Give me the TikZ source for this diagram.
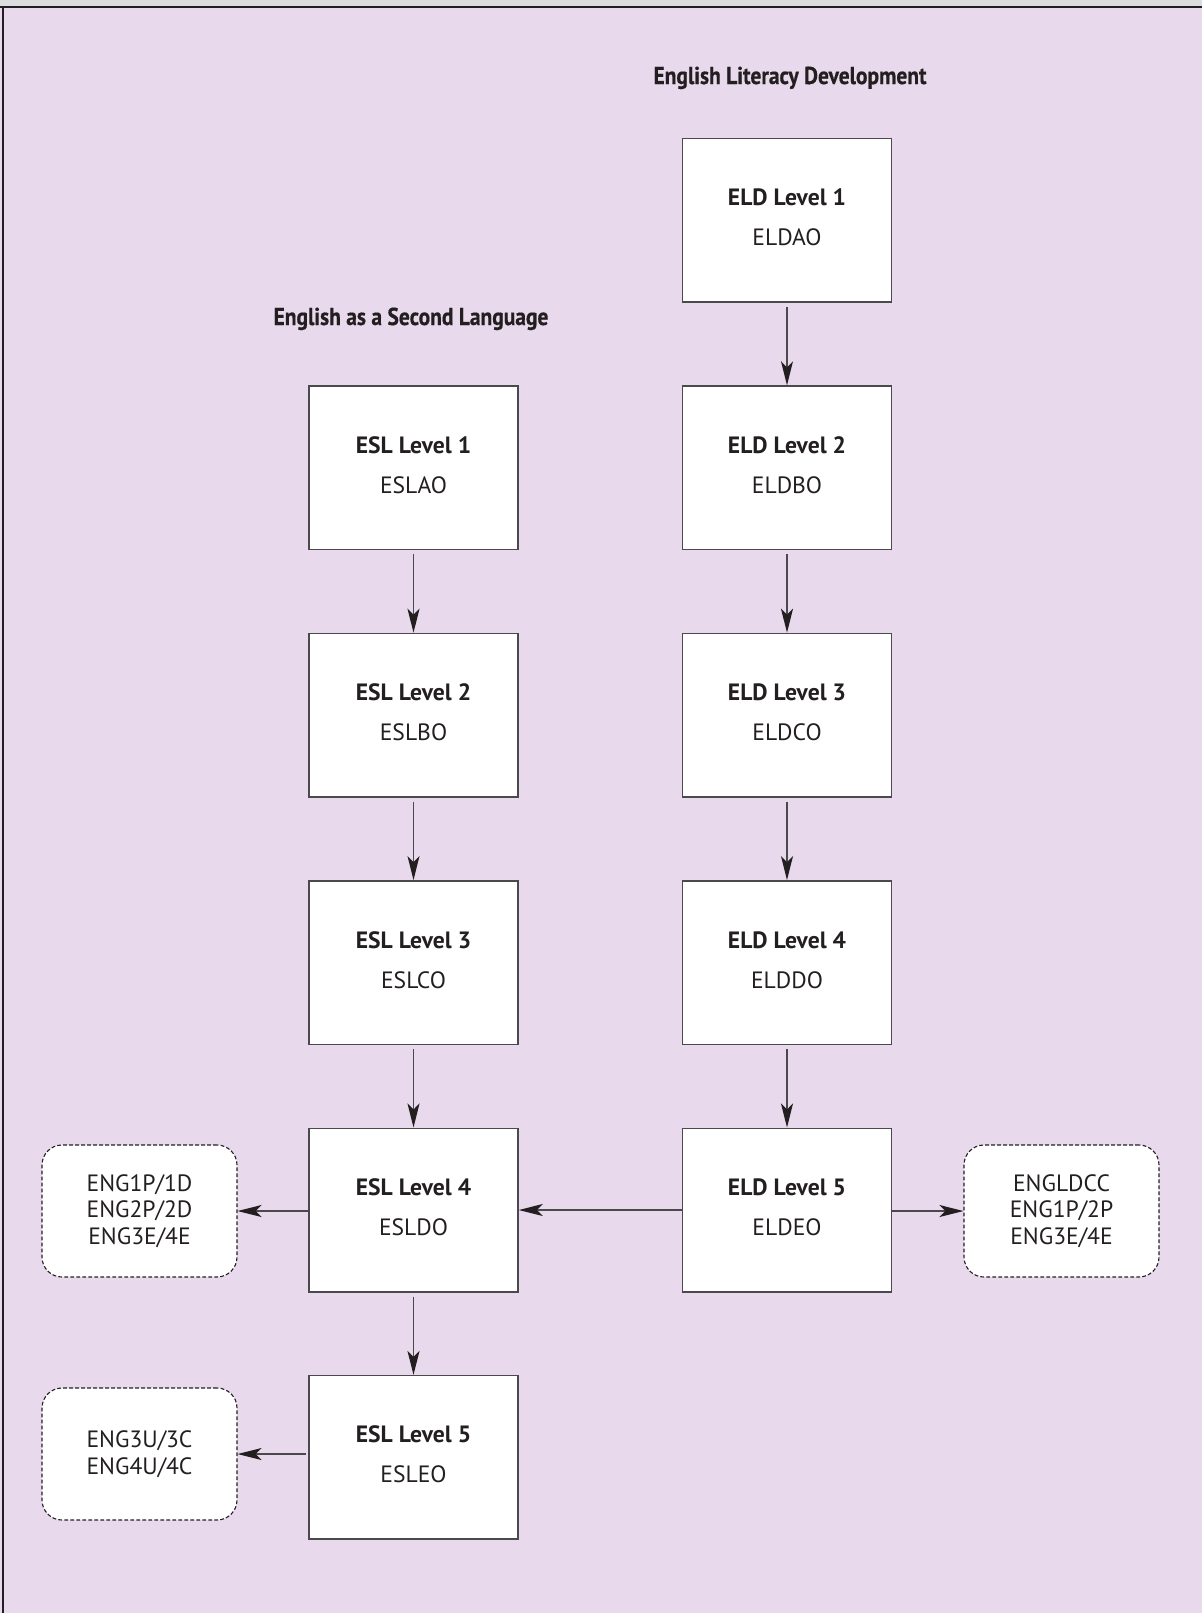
\documentclass[tikz,border=0pt]{standalone}
\usepackage{fontspec}
\setmainfont{PT Sans}
\newfontfamily\headfont[FakeStretch=0.88,FakeBold=0.5]{PT Sans Bold}
\usetikzlibrary{arrows.meta}
\definecolor{lav}{HTML}{E8D9EC}
\definecolor{topgray}{HTML}{DCDDDE}
\definecolor{ink}{HTML}{231F20}
\definecolor{edge}{HTML}{4A4A4C}
\tikzset{
  lvl/.style={draw=edge, fill=white, line width=0.75pt, minimum width=104.5pt, minimum height=81.75pt, inner sep=0pt},
  ttl/.style={text=ink, inner sep=0pt, font=\fontsize{11.8pt}{13.4pt}\selectfont\bfseries},
  cod/.style={text=ink, inner sep=0pt, font=\fontsize{11.8pt}{13.4pt}\selectfont},
  outbox/.style={draw=ink, fill=white, line width=0.55pt, dash pattern=on 1.9pt off 1.1pt, rounded corners=10pt, minimum width=97.5pt, minimum height=66pt, inner sep=0pt, align=center, text=ink, font=\fontsize{11.8pt}{13.35pt}\selectfont},
  head/.style={text=ink, inner sep=0pt, font=\headfont\fontsize{12.2pt}{13pt}\selectfont},
  arr/.style={draw=edge, line width=0.85pt, -{Stealth[length=12pt, width=6pt, inset=3pt, color=ink]}},
}
\newcommand\lvlbox[5]{%
  \node[lvl, anchor=north] (#1) at (#2,#3) {};
  \node[ttl, anchor=base] (#1t) at ([yshift=-34pt]#1.north) {#4};
  \node[cod, anchor=base] (#1c) at ([yshift=-54pt]#1.north) {#5};
}
\begin{document}
\begin{tikzpicture}[x=0.5pt, y=-0.5pt]
\useasboundingbox (0,0) rectangle (1202,1613);
% background
\fill[lav] (0,0) rectangle (1202,1613);
\fill[topgray] (0,0) rectangle (1202,6);
\draw[ink, line width=1pt] (0,6.5) -- (1202,6.5);
\draw[ink, line width=1pt] (2.5,6) -- (2.5,1613);
% headings
\node[head, anchor=base] (hELD) at (790,84) {English Literacy Development};
\node[head, anchor=base] (hESL) at (411,325) {English as a Second Language};
% ELD column
\lvlbox{eld1}{787}{137.9}{ELD Level 1}{ELDAO}
\lvlbox{eld2}{787}{385.3}{ELD Level 2}{ELDBO}
\lvlbox{eld3}{787}{632.7}{ELD Level 3}{ELDCO}
\lvlbox{eld4}{787}{880.1}{ELD Level 4}{ELDDO}
\lvlbox{eld5}{787}{1127.5}{ELD Level 5}{ELDEO}
% ESL column
\lvlbox{esl1}{413.5}{385.3}{ESL Level 1}{ESLAO}
\lvlbox{esl2}{413.5}{632.7}{ESL Level 2}{ESLBO}
\lvlbox{esl3}{413.5}{880.1}{ESL Level 3}{ESLCO}
\lvlbox{esl4}{413.5}{1127.5}{ESL Level 4}{ESLDO}
\lvlbox{esl5}{413.5}{1374.9}{ESL Level 5}{ESLEO}
% outcome boxes
\node[outbox] (d1) at (139.5,1211) {ENG1P/1D\\ENG2P/2D\\ENG3E/4E};
\node[outbox] (d2) at (1061.5,1211) {ENGLDCC\\ENG1P/2P\\ENG3E/4E};
\node[outbox] (d3) at (139.5,1454) {ENG3U/3C\\ENG4U/4C};
% vertical arrows
\draw[arr, shorten <=2pt] (eld1) -- (eld2);
\draw[arr, shorten <=2pt] (eld2) -- (eld3);
\draw[arr, shorten <=2pt] (eld3) -- (eld4);
\draw[arr, shorten <=2pt] (eld4) -- (eld5);
\draw[arr, shorten <=2pt] (esl1) -- (esl2);
\draw[arr, shorten <=2pt] (esl2) -- (esl3);
\draw[arr, shorten <=2pt] (esl3) -- (esl4);
\draw[arr, shorten <=2pt] (esl4) -- (esl5);
% horizontal arrows
\draw[arr] (eld5) -- (esl4);
\draw[arr] (esl4.west |- d1) -- (d1);
\draw[arr] (eld5.east |- d2) -- (d2);
\draw[arr, shorten <=1pt] (esl5.west |- d3) -- (d3);
\end{tikzpicture}
\end{document}
